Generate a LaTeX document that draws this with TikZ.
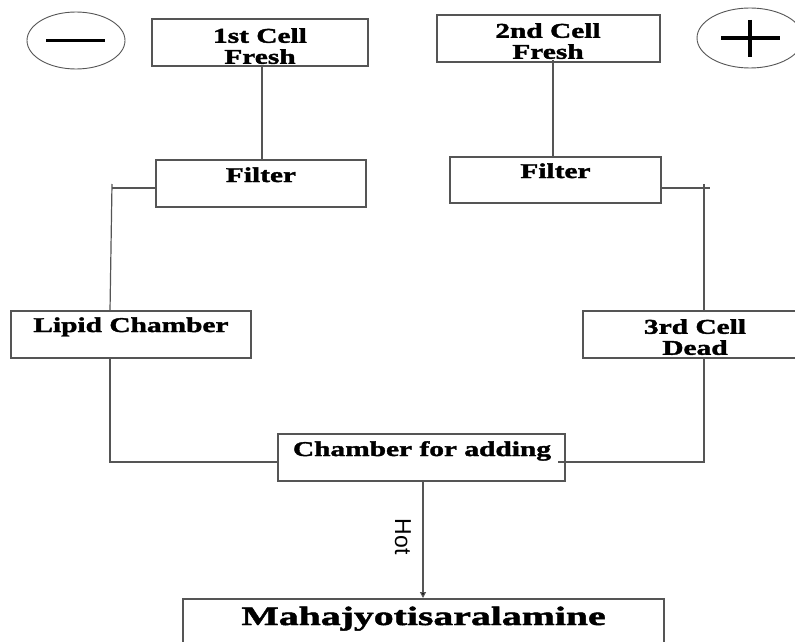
\documentclass[tikz,border=0pt]{standalone}
\usepackage{fontspec}
\usetikzlibrary{shapes.geometric,arrows.meta}
\newfontfamily\boxfont{Liberation Serif}[FakeStretch=1.4,FakeBold=1.8]
\newfontfamily\mahafont{Liberation Serif}[FakeStretch=1.5,FakeBold=1.8]
\newfontfamily\hotfont{Liberation Sans}
\definecolor{linegray}{HTML}{555555}
\tikzset{
  boxshape/.style={draw=linegray, line width=1.2pt, rectangle, inner sep=0pt},
  boxtext/.style={inner sep=0pt, align=center, text=black,
    font={\boxfont\bfseries\fontsize{21}{21}\selectfont}},
  conn/.style={draw=linegray, line width=1.2pt},
  signbar/.style={draw=black, line width=3.2pt},
  pole/.style={draw=linegray, line width=0.9pt, ellipse, inner sep=0pt}
}
\begin{document}
\begin{tikzpicture}[x=1pt,y=-1pt]
\useasboundingbox (0,0) rectangle (795,642);
\clip (0,0) rectangle (795,642);
\fill[white] (0,0) rectangle (795,642);

% poles
\node[pole, minimum width=98pt, minimum height=57pt] (minus) at (76,40.5) {};
\draw[signbar] ([xshift=-30pt]minus.center) -- ([xshift=29pt]minus.center);
\node[pole, minimum width=106pt, minimum height=60pt] (plus) at (750,38) {};
\draw[signbar] ([xshift=-29pt]plus.center) -- ([xshift=30pt]plus.center);
\draw[signbar] ([yshift=18pt]plus.center) -- ([yshift=-19pt]plus.center);

% boxes
\node[boxshape, minimum width=216pt, minimum height=47pt] (c1) at (260,42.5) {};
\node[boxshape, minimum width=210pt, minimum height=47pt] (f1) at (261,183.5) {};
\node[boxshape, minimum width=240pt, minimum height=47pt] (lip) at (131,334.5) {};
\node[boxshape, minimum width=223pt, minimum height=47pt] (c2) at (548.5,38.5) {};
\node[boxshape, minimum width=211pt, minimum height=46pt] (f2) at (555.5,180) {};
\node[boxshape, minimum width=224pt, minimum height=47pt] (c3) at (695,334.5) {};
\node[boxshape, minimum width=287pt, minimum height=47pt] (ch) at (421.5,457.5) {};
\node[boxshape, minimum width=481pt, minimum height=70pt] (maha) at (423.5,634) {};

% texts
\node[boxtext, anchor=north] (c1t) at (260,28) {1st Cell\\Fresh};
\node[boxtext, anchor=base] (f1t) at (261,182) {Filter};
\node[boxtext, anchor=base] (lipt) at (131,332) {Lipid Chamber};
\node[boxtext, anchor=north] (c2t) at (548,23) {2nd Cell\\Fresh};
\node[boxtext, anchor=base] (f2t) at (555.5,178) {Filter};
\node[boxtext, anchor=north] (c3t) at (695,319) {3rd Cell\\Dead};
\node[boxtext, anchor=base] (cht) at (422,456) {Chamber for adding};
\node[inner sep=0pt, anchor=base, font={\mahafont\bfseries\fontsize{26.5}{28}\selectfont}] (mahat) at (423.5,625) {Mahajyotisaralamine};

% connectors
\coordinate (lt) at (112,184);
\coordinate (lm) at (110,311);
\coordinate (lb) at (110,462);
\coordinate (rt) at (704,184);
\coordinate (rb) at (704,462);

\draw[conn] (262,66) -- (262,160);
\draw[conn] (553,60) -- (553,157);
\draw[conn] (f1.west |- 0,188) -- (111.5,188);
\draw[conn] (lt) -- (lm);
\draw[conn] (lm |- lip.south) -- (lb) -- (lb -| ch.west);
\draw[conn] (f2.east |- 0,188) -- (710,188);
\draw[conn] (rt) -- (rt |- c3.north);
\draw[conn] (558,462) -- (rb) -- (rb |- c3.south);
\draw[conn, -{Triangle[width=6pt,length=6pt,fill=black]}] (423,481) -- (423,598);
\node[inner sep=0pt, font={\hotfont\fontsize{23}{26}\selectfont}] (hot) at (403,536.5) {\rotatebox{-90}{Hot}};
\end{tikzpicture}
\end{document}
